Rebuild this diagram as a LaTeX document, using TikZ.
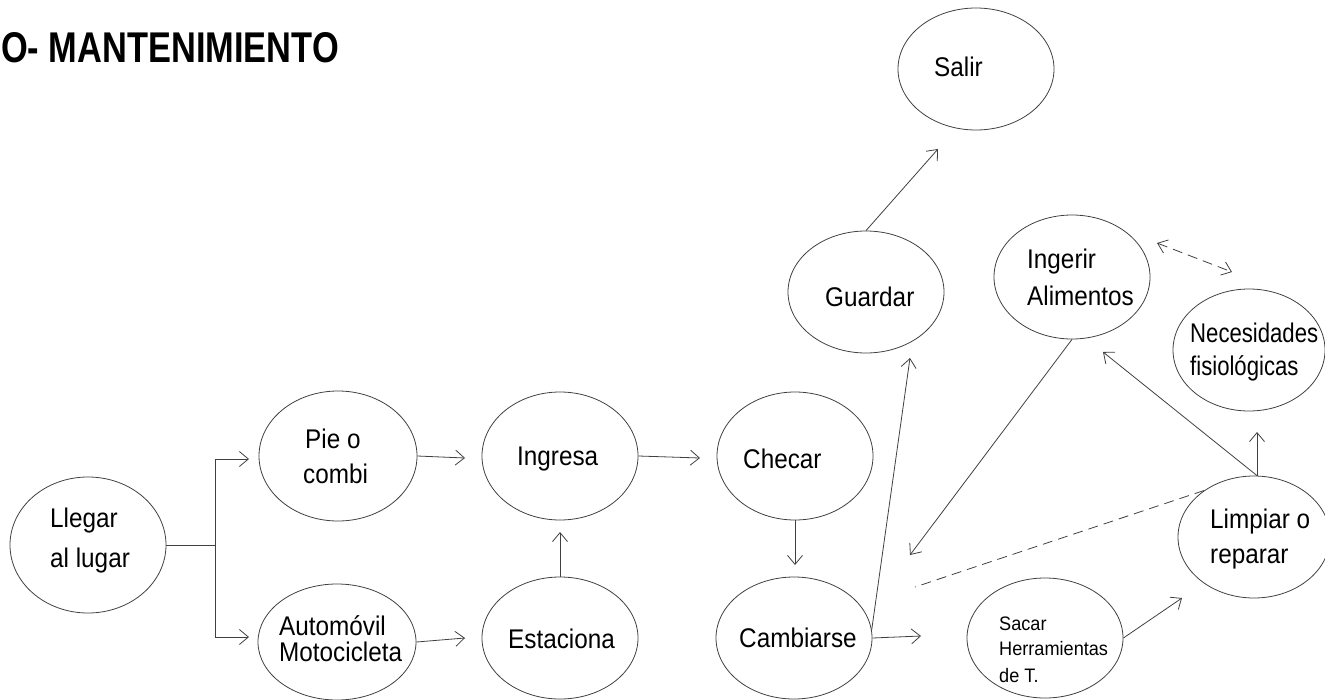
\documentclass[tikz,border=0pt]{standalone}
\usepackage{fontspec}
\setmainfont{Liberation Sans}[FakeStretch=0.9]
\newfontfamily\titlefont[FakeStretch=0.8]{Liberation Sans}
\newfontfamily\narrowfont[FakeStretch=0.82]{Liberation Sans}
\newfontfamily\smallfont[FakeStretch=0.93]{Liberation Sans}
\usetikzlibrary{shapes.geometric,arrows.meta}
\begin{document}
\begin{tikzpicture}[x=1pt,y=-1pt,
  oval/.style={ellipse,draw=black!75,line width=0.8pt,inner sep=0pt},
  txt/.style={anchor=base west,inner sep=0pt,font=\fontsize{27}{27}\selectfont},
  smalltxt/.style={anchor=base west,inner sep=0pt,font=\smallfont\fontsize{19.5}{19.5}\selectfont},
  conn/.style={draw=black!75,line width=0.8pt},
  arr/.style={conn,-{Straight Barb[length=9pt,width=15pt]}},
  dsh/.style={conn,dash pattern=on 10pt off 6pt}]
\useasboundingbox (0,0) rectangle (1325,699);

% title
\node[anchor=base west,inner sep=0pt,font=\titlefont\bfseries\fontsize{43}{43}\selectfont] (title) at (1,62) {O- MANTENIMIENTO};

% ellipses
\node[oval,minimum width=156pt,minimum height=136pt] (llegar) at (88,545) {};
\node[oval,minimum width=158pt,minimum height=130pt] (pie) at (338,456) {};
\node[oval,minimum width=158pt,minimum height=116pt] (auto) at (337,642) {};
\node[oval,minimum width=156pt,minimum height=128pt] (ingresa) at (560,456) {};
\node[oval,minimum width=156pt,minimum height=122pt] (estaciona) at (560,638) {};
\node[oval,minimum width=156pt,minimum height=128pt] (checar) at (795,456) {};
\node[oval,minimum width=156pt,minimum height=122pt] (cambiarse) at (794,638) {};
\node[oval,minimum width=156pt,minimum height=122pt] (salir) at (976,69) {};
\node[oval,minimum width=156pt,minimum height=122pt] (guardar) at (866,292) {};
\node[oval,minimum width=156pt,minimum height=124pt] (ingerir) at (1072,277) {};
\node[oval,minimum width=152pt,minimum height=122pt] (necesidades) at (1249,350) {};
\node[oval,minimum width=152pt,minimum height=122pt] (limpiar) at (1254,537) {};
\node[oval,minimum width=156pt,minimum height=120pt] (sacar) at (1045,638) {};

% texts
\node[txt] (t-llegar1) at (50,527) {Llegar};
\node[txt] (t-llegar2) at (50,567) {al lugar};
\node[txt] (t-pie1) at (305,448) {Pie o};
\node[txt] (t-pie2) at (303,483) {combi};
\node[txt] (t-auto1) at (279,635) {Automóvil};
\node[txt] (t-auto2) at (279,661) {Motocicleta};
\node[txt] (t-ingresa) at (517,465) {Ingresa};
\node[txt] (t-estaciona) at (508,648) {Estaciona};
\node[txt] (t-checar) at (743,468) {Checar};
\node[txt] (t-cambiarse) at (739,647) {Cambiarse};
\node[txt] (t-salir) at (934,76) {Salir};
\node[txt] (t-guardar) at (825,306) {Guardar};
\node[txt] (t-ingerir1) at (1027,268) {Ingerir};
\node[txt] (t-ingerir2) at (1027,305) {Alimentos};
\node[txt,font=\narrowfont\fontsize{27}{27}\selectfont] (t-nec1) at (1190,342) {Necesidades};
\node[txt,font=\narrowfont\fontsize{27}{27}\selectfont] (t-nec2) at (1190,375) {fisiológicas};
\node[txt] (t-limp1) at (1210,528) {Limpiar o};
\node[txt] (t-limp2) at (1210,563) {reparar};
\node[smalltxt] (t-sacar1) at (999,630) {Sacar};
\node[smalltxt] (t-sacar2) at (999,655) {Herramientas};
\node[smalltxt] (t-sacar3) at (999,682) {de T.};

% free arrow ends
\coordinate (fork) at (215,545);
\coordinate (pietip) at (249,459);
\coordinate (autotip) at (249,637);
\coordinate (ingtip) at (465,458);
\coordinate (esttip) at (465,638);
\coordinate (chetip) at (700,458);
\coordinate (ingtipb) at (560,532);
\coordinate (camtip) at (795,565);
\coordinate (guatip) at (910,358);
\coordinate (sactip) at (921,636);
\coordinate (saltip) at (938,149);
\coordinate (camtipb) at (910,555);
\coordinate (ingertip) at (1103,352);
\coordinate (nectip) at (1257,432);
\coordinate (limtip) at (1182,598);
\coordinate (dashend) at (915,587);
\coordinate (dblA) at (1157,243);
\coordinate (dblB) at (1232,272);

% connectors
\draw[conn] (llegar.east) -- (fork);
\draw[arr] (fork) |- (pietip);
\draw[arr] (fork) |- (autotip);
\draw[arr] (pie.east) -- (ingtip);
\draw[arr] (auto.east) -- (esttip);
\draw[arr] (ingresa.east) -- (chetip);
\draw[arr] (estaciona.north) -- (ingtipb);
\draw[arr] (checar.south) -- (camtip);
\draw[arr] (cambiarse.6) -- (guatip);
\draw[arr] (cambiarse.east) -- (sactip);
\draw[arr] (guardar.north) -- (saltip);
\draw[arr] (ingerir.south) -- (camtipb);
\draw[arr] ([xshift=3pt]limpiar.north) -- (ingertip);
\draw[arr] ([xshift=3pt]limpiar.north) -- (nectip);
\draw[arr] (sacar.east) -- (limtip);
\draw[dsh] (limpiar.137) -- (dashend);
\draw[dsh,{Straight Barb[length=9pt,width=14pt]}-{Straight Barb[length=9pt,width=14pt]}] (dblA) -- (dblB);
\end{tikzpicture}
\end{document}
